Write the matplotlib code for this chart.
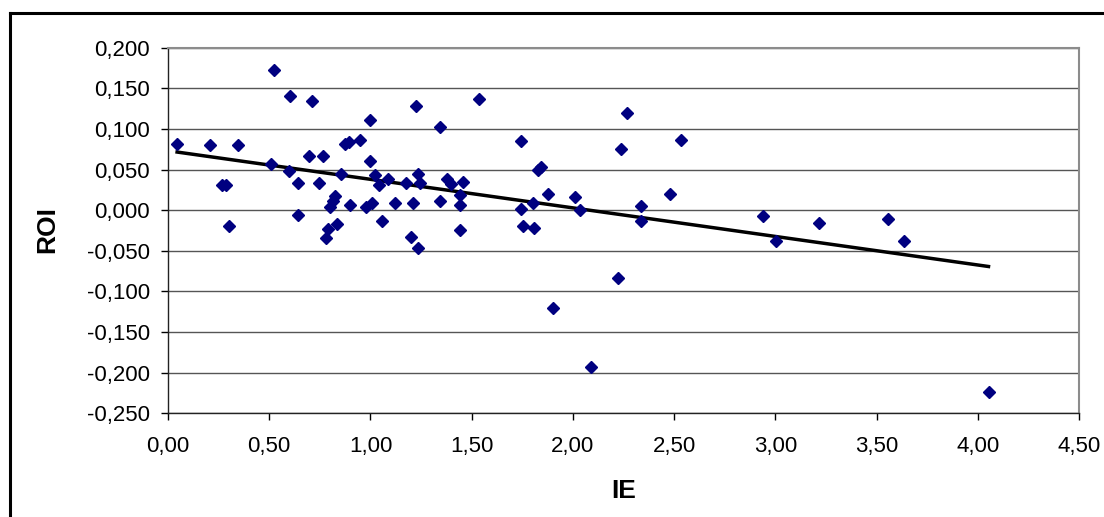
import numpy as np
import matplotlib.pyplot as plt
from matplotlib.ticker import FuncFormatter, MultipleLocator
from matplotlib.lines import Line2D

# IE (x) and ROI (y) values
ie = [0.045, 0.205, 0.346, 0.267, 0.287, 0.303, 0.524, 0.605, 0.711, 0.509,
      0.596, 0.641, 0.641, 0.695, 0.766, 0.745, 0.780, 0.790, 0.802, 0.814,
      0.827, 0.836, 0.854, 0.873, 0.893, 0.899, 0.950, 0.978, 0.996, 0.996,
      1.008, 1.024, 1.041, 1.057, 1.087, 1.123, 1.174, 1.201, 1.211, 1.227,
      1.235, 1.245, 1.235, 1.343, 1.342, 1.378, 1.396, 1.457, 1.444, 1.440,
      1.440, 1.538, 1.743, 1.743, 1.753, 1.806, 1.802, 1.830, 1.844, 1.876,
      1.903, 2.008, 2.036, 2.089, 2.222, 2.239, 2.267, 2.337, 2.337, 2.480,
      2.535, 2.941, 3.003, 3.217, 3.556, 3.635, 4.053]
roi = [0.082, 0.080, 0.080, 0.031, 0.031, -0.020, 0.173, 0.140, 0.135, 0.057,
       0.048, 0.033, -0.006, 0.067, 0.067, 0.033, -0.034, -0.023, 0.004, 0.011,
       0.018, -0.017, 0.044, 0.082, 0.084, 0.007, 0.087, 0.004, 0.111, 0.060,
       0.009, 0.043, 0.031, -0.013, 0.038, 0.009, 0.033, -0.033, 0.009, 0.128,
       0.045, 0.033, -0.046, 0.102, 0.011, 0.039, 0.032, 0.035, 0.019, 0.007,
       -0.024, 0.137, 0.085, 0.002, -0.020, -0.022, 0.009, 0.050, 0.053, 0.020,
       -0.120, 0.016, 0.000, -0.193, -0.084, 0.075, 0.120, 0.005, -0.013, 0.020,
       0.087, -0.007, -0.038, -0.016, -0.011, -0.038, -0.224]

plt.rcParams['font.family'] = ['Liberation Sans', 'DejaVu Sans']

fig = plt.figure(figsize=(11.04, 5.17), dpi=100)
ax = fig.add_axes([168 / 1104, 1 - 413.3 / 517, 911 / 1104, 365.6 / 517])

# linear trend line over the data range
x = np.array(ie)
y = np.array(roi)
k, b = np.polyfit(x, y, 1)
xt = np.array([x.min(), x.max()])
ax.plot(xt, k * xt + b, color='black', lw=2.5, zorder=3)

ax.plot(x, y, 'D', color='#000080', ms=6.5, mec='#000080', zorder=4)

ax.set_xlim(0, 4.5)
ax.set_ylim(-0.25, 0.2)
ax.xaxis.set_major_locator(MultipleLocator(0.5))
ax.yaxis.set_major_locator(MultipleLocator(0.05))
ax.xaxis.set_major_formatter(FuncFormatter(lambda v, p: f"{v:.2f}".replace('.', ',')))
ax.yaxis.set_major_formatter(FuncFormatter(lambda v, p: f"{v:.3f}".replace('.', ',').replace('-0,000', '0,000')))

ax.yaxis.grid(True, color='#555555', lw=1)
ax.set_axisbelow(True)
ax.tick_params(axis='y', direction='out', length=5, width=1, pad=8, labelsize=16)
ax.tick_params(axis='x', direction='out', length=5, width=1, pad=11, labelsize=16)
for s in ['top', 'right']:
    ax.spines[s].set_color('#8c8c8c')
    ax.spines[s].set_linewidth(1.5)
for s in ['left', 'bottom']:
    ax.spines[s].set_color('#222222')
    ax.spines[s].set_linewidth(1)

fig.text(47.5 / 1104, 1 - 230 / 517, 'ROI', rotation=90, ha='center', va='center',
         fontsize=19, fontweight='bold')
fig.text(623.5 / 1104, 1 - 491 / 517, 'IE', ha='center', va='center',
         fontsize=19, fontweight='bold')

# outer chart border (top and left only visible)
x0 = 10 / 1104
y0 = 1 - 13 / 517
fig.add_artist(Line2D([x0, x0], [0, y0], color='black', lw=2.2))
fig.add_artist(Line2D([x0, 1], [y0, y0], color='black', lw=2.2))

fig.savefig('out.png', dpi=100)
